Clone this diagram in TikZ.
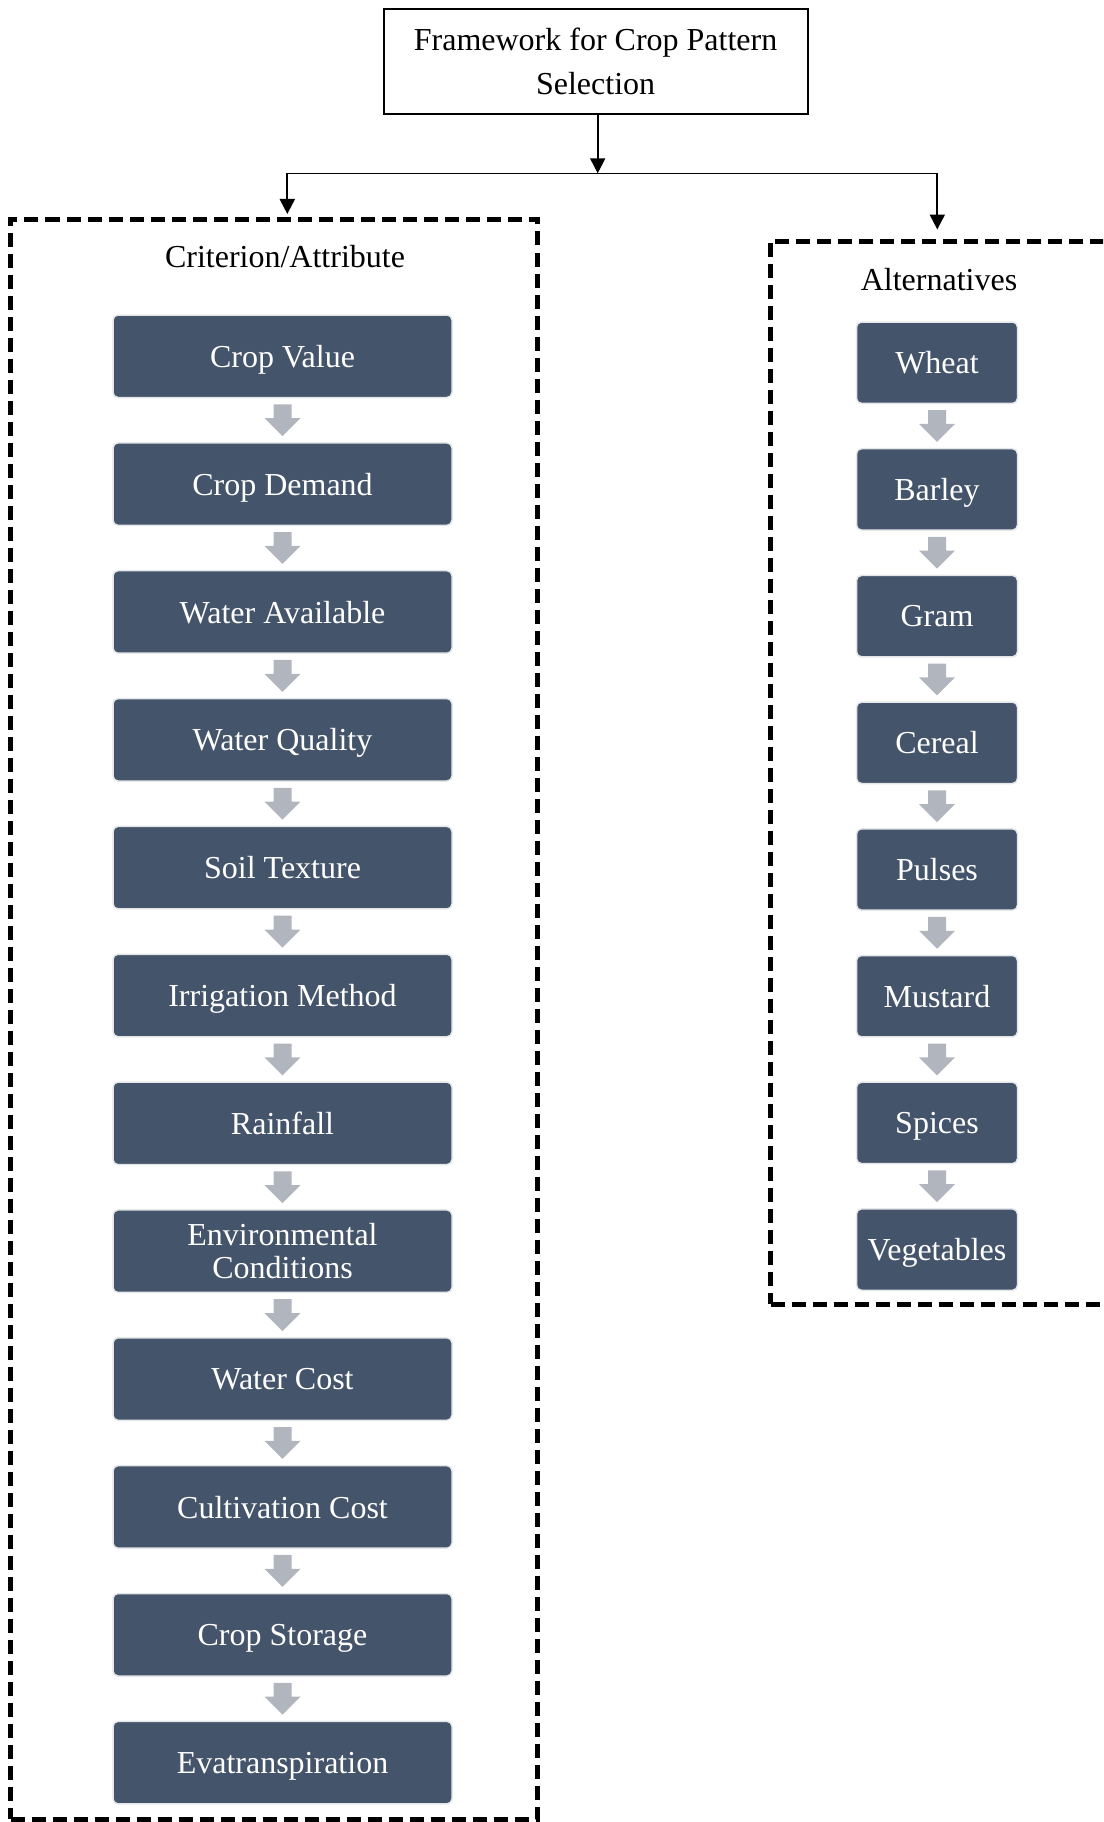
\documentclass[tikz,border=0pt]{standalone}
\usepackage{fontspec}
\setmainfont{Liberation Serif}
\usetikzlibrary{arrows.meta,calc}
\definecolor{boxfill}{HTML}{44546A}
\definecolor{boxedge}{HTML}{E4E6EA}
\definecolor{arrowgray}{HTML}{B1B5BD}
\tikzset{
  stepbox/.style={draw=boxedge, line width=1.5pt, fill=boxfill, rounded corners=5pt,
    text=white, align=center, inner sep=0pt,
    font=\fontsize{32}{33}\selectfont},
  lstep/.style={stepbox, minimum width=339pt, minimum height=82.5pt},
  rstep/.style={stepbox, minimum width=161pt, minimum height=81.4pt},
  sl/.style={text depth=0pt},
  ml/.style={},
  dashbox/.style={draw=black, line width=5pt, dash pattern=on 14pt off 7pt, inner sep=0pt},
  blackarrow/.style={draw=black, line width=2pt, -{Triangle[length=15pt,width=15pt]}},
  titletext/.style={font=\fontsize{32}{33}\selectfont, inner sep=0pt}
}
\newcommand\grayblockarrow[2]{%
  \fill[arrowgray] ($(#1.south)+(-9,6)$) -- ($(#1.south)+(9,6)$) -- ($(#2.north)+(9,-24)$)
    -- ($(#2.north)+(18,-24)$) -- ($(#2.north)+(0,-6)$) -- ($(#2.north)+(-18,-24)$)
    -- ($(#2.north)+(-9,-24)$) -- cycle;}
\begin{document}
\begin{tikzpicture}[x=1pt,y=-1pt]
\useasboundingbox (0,0) rectangle (1103,1822);
\clip (0,0) rectangle (1103,1822);
% top box
\node[draw=black, line width=2.2pt, minimum width=424pt, minimum height=104.6pt, align=center,
  font=\fontsize{32}{44}\selectfont, inner sep=0pt] (top) at (595.6,61.6)
  {Framework for Crop Pattern\\Selection};
% dashed groups
\node[dashbox, minimum width=526.5pt, minimum height=1600pt] (lbox) at (273.75,1019) {};
\node[dashbox, minimum width=349.4pt, minimum height=1063pt] (rbox) at (945.3,772.5) {};
\node[titletext] (ltitle) at (285,257) {Criterion/Attribute};
\node[titletext] (rtitle) at (939,280) {Alternatives};
% connectors
\coordinate (j) at (597.7,173.3);
\coordinate (hl) at (287.3,173.3);
\coordinate (hr) at (937.3,173.3);
\draw[line width=1pt] (hl) -- (hr);
\draw[blackarrow] (top.south -| j) -- (j);
\draw[blackarrow] (hl) -- ($(hl |- lbox.north)+(0,-2.5)$);
\draw[blackarrow] (hr) -- ($(hr |- rbox.north)+(0,-9)$);
% left column
\foreach \t/\o [count=\i from 0] in {Crop Value/sl,Crop Demand/sl,Water Available/sl,Water Quality/sl,Soil Texture/sl,Irrigation Method/sl,Rainfall/sl,{Environmental\\Conditions}/ml,Water Cost/sl,Cultivation Cost/sl,Crop Storage/sl,Evatranspiration/sl}{
  \node[lstep,\o] (L\i) at (282.5,{356.25+\i*127.85}) {\t};
}
\foreach \i [evaluate=\i as \j using int(\i+1)] in {0,...,10}{
  \grayblockarrow{L\i}{L\j}
}
% right column
\foreach \t [count=\i from 0] in {Wheat,Barley,Gram,Cereal,Pulses,Mustard,Spices,Vegetables}{
  \node[rstep,sl] (R\i) at (937,{362.7+\i*126.7}) {\t};
}
\foreach \i [evaluate=\i as \j using int(\i+1)] in {0,...,6}{
  \grayblockarrow{R\i}{R\j}
}
\end{tikzpicture}
\end{document}
